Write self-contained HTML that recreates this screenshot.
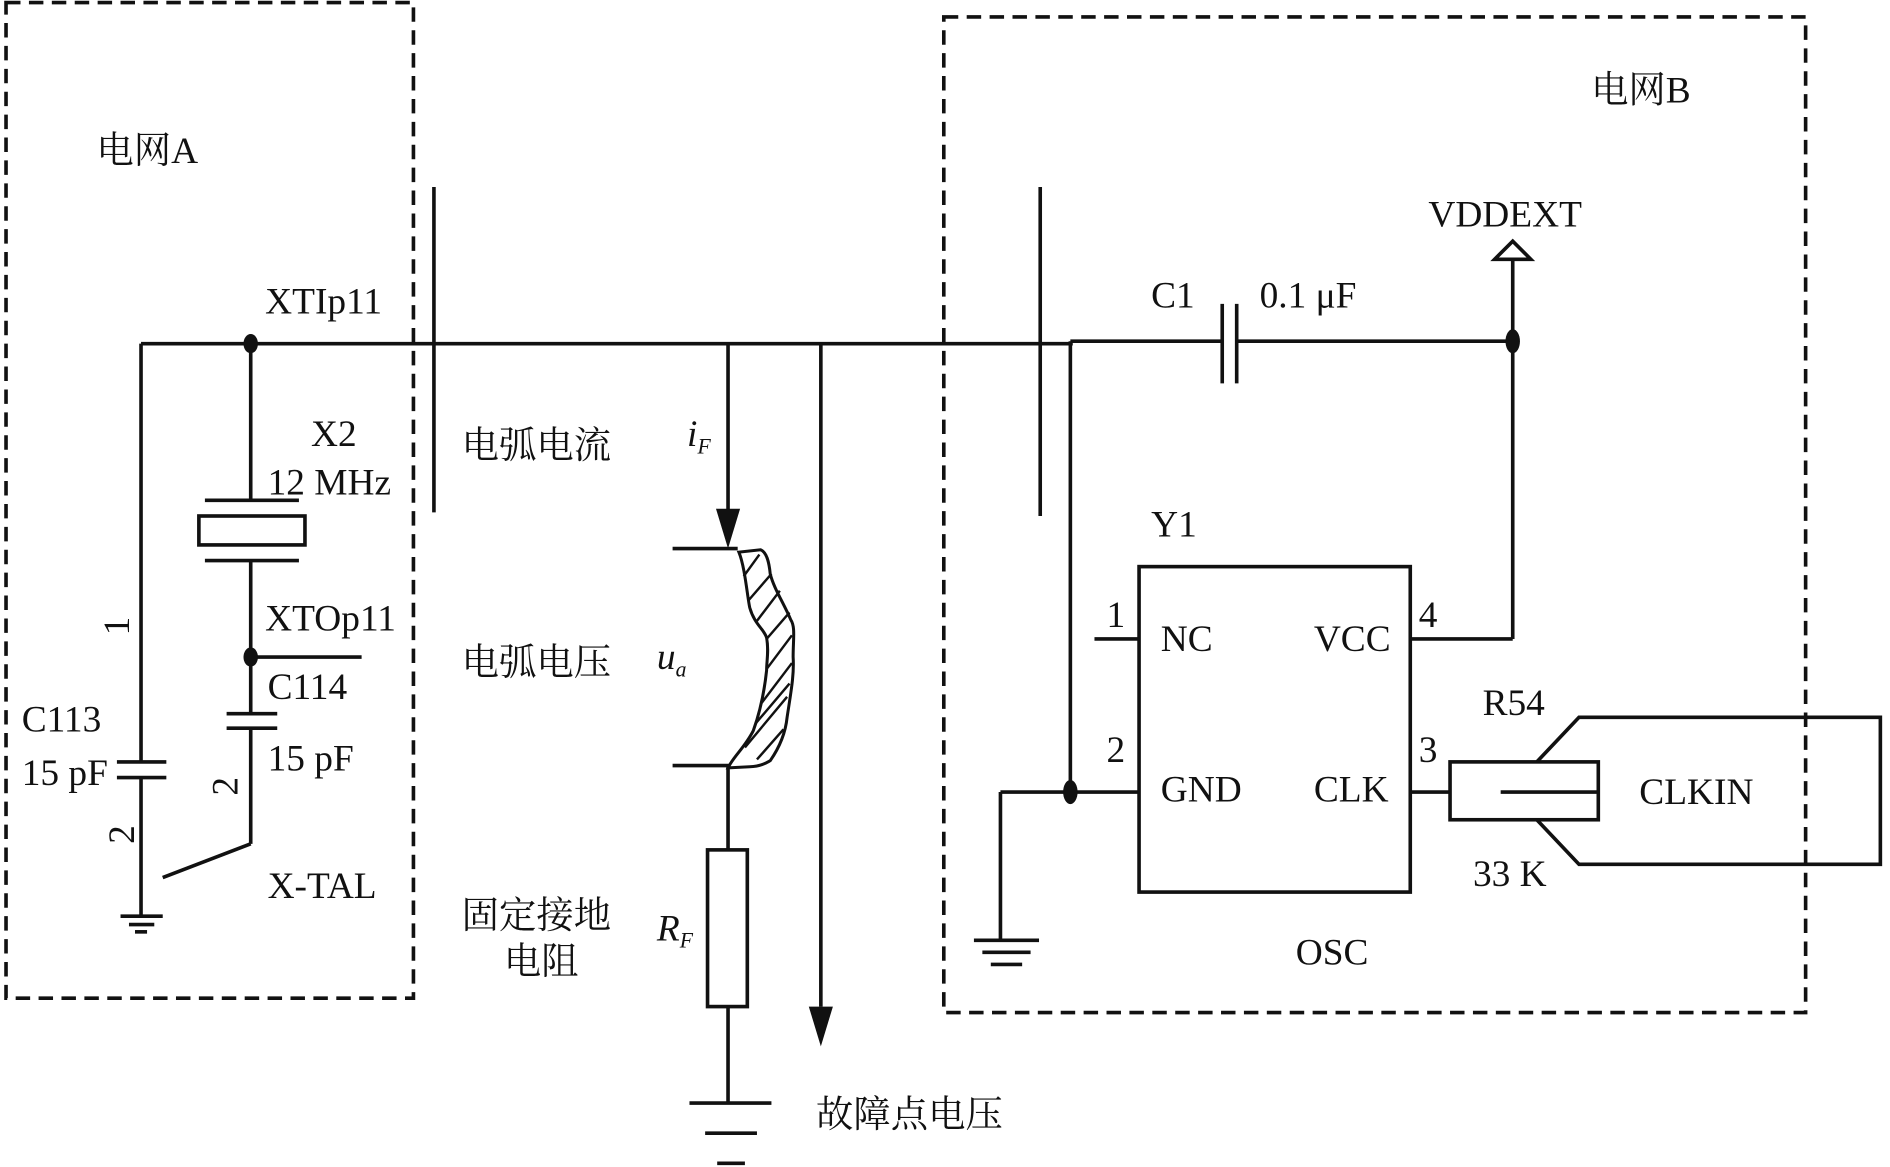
<!DOCTYPE html>
<html><head><meta charset="utf-8"><style>
html,body{margin:0;padding:0;background:#fff;}
svg{display:block;}
text{font-family:"Liberation Serif","Noto Serif CJK SC",serif;font-size:31px;fill:#111;}
.cn{font-family:"Liberation Serif","Noto Serif CJK SC",serif;}
</style></head><body>
<svg width="1890" height="1167" viewBox="0 0 1568 968" xmlns="http://www.w3.org/2000/svg">
<g fill="none" stroke="#111" stroke-width="3">
<rect x="5" y="2" width="338" height="826" stroke-dasharray="12,7"/>
<rect x="783" y="14" width="715" height="826" stroke-dasharray="12,7"/>
<line x1="117" y1="285" x2="890" y2="285"/>
<line x1="888" y1="283" x2="1014" y2="283"/>
<line x1="1026" y1="283" x2="1255" y2="283"/>
<line x1="1014" y1="252" x2="1014" y2="318"/>
<line x1="1026" y1="252" x2="1026" y2="318"/>
<line x1="360" y1="155" x2="360" y2="425"/>
<line x1="863" y1="155" x2="863" y2="428"/>
<line x1="117" y1="285" x2="117" y2="632"/>
<line x1="97" y1="632" x2="138" y2="632"/>
<line x1="97" y1="645" x2="138" y2="645"/>
<line x1="117" y1="645" x2="117" y2="760"/>
<line x1="100" y1="760" x2="135" y2="760"/>
<line x1="107" y1="767" x2="128" y2="767"/>
<line x1="112" y1="773" x2="122" y2="773"/>
<line x1="208" y1="285" x2="208" y2="415"/>
<line x1="170" y1="415" x2="248" y2="415"/>
<rect x="165" y="428" width="88" height="24"/>
<line x1="170" y1="465" x2="248" y2="465"/>
<line x1="208" y1="465" x2="208" y2="592"/>
<line x1="208" y1="545" x2="300" y2="545"/>
<line x1="188" y1="592" x2="230" y2="592"/>
<line x1="188" y1="604" x2="230" y2="604"/>
<line x1="208" y1="604" x2="208" y2="700"/>
<line x1="208" y1="700" x2="135" y2="728"/>
<line x1="604" y1="285" x2="604" y2="425"/>
<line x1="558" y1="455" x2="612" y2="455"/>
<line x1="558" y1="635" x2="605" y2="635"/>
<path d="M613 458 C 618 470, 620 495, 622 504 C 626 518, 634 522, 636 529 C 638 540, 636 548, 636 556 C 634 575, 630 592, 625 606 C 618 620, 608 628, 604 637 L 622 636 C 632 636, 637 632, 639 631 C 648 618, 652 605, 653 595 C 656 575, 659 560, 658 545 C 658 530, 660 520, 656 514 C 650 500, 642 488, 639 476 C 638 466, 636 458, 631 456 Z" stroke-width="2.5"/>
<line x1="604" y1="635" x2="604" y2="705"/>
<rect x="587" y="705" width="33" height="130"/>
<line x1="604" y1="835" x2="604" y2="915"/>
<line x1="572" y1="915" x2="640" y2="915"/>
<line x1="585" y1="940" x2="628" y2="940"/>
<line x1="595" y1="965" x2="618" y2="965"/>
<line x1="681" y1="285" x2="681" y2="835"/>
<line x1="888" y1="283" x2="888" y2="657"/>
<line x1="830" y1="657" x2="945" y2="657"/>
<line x1="830" y1="657" x2="830" y2="780"/>
<line x1="808" y1="780" x2="862" y2="780"/>
<line x1="815" y1="790" x2="855" y2="790"/>
<line x1="822" y1="800" x2="848" y2="800"/>
<rect x="945" y="470" width="225" height="270"/>
<line x1="908" y1="530" x2="945" y2="530"/>
<line x1="1170" y1="530" x2="1255" y2="530"/>
<line x1="1255" y1="215" x2="1255" y2="530"/>
<polygon points="1240,215 1270,215 1255,200"/>
<line x1="1170" y1="657" x2="1203" y2="657"/>
<rect x="1203" y="632" width="123" height="48"/>
<line x1="1245" y1="657" x2="1326" y2="657"/>
<polyline points="1275,632 1310,595 1560,595 1560,717 1310,717 1275,680"/>
</g>
<g stroke="#111" stroke-width="2">
<line x1="617" y1="478" x2="630" y2="460"/><line x1="621" y1="498" x2="640" y2="476"/>
<line x1="628" y1="515" x2="647" y2="490"/><line x1="636" y1="530" x2="655" y2="508"/>
<line x1="636" y1="555" x2="657" y2="527"/><line x1="632" y1="583" x2="657" y2="550"/>
<line x1="627" y1="600" x2="655" y2="567"/><line x1="618" y1="620" x2="653" y2="578"/>
<line x1="628" y1="630" x2="650" y2="605"/>
</g>
<g fill="#111">
<ellipse cx="208" cy="285" rx="6" ry="8"/>
<ellipse cx="208" cy="545" rx="6" ry="8"/>
<ellipse cx="888" cy="657" rx="6" ry="10"/>
<ellipse cx="1255" cy="283" rx="6" ry="10"/>
<polygon points="594,422 614,422 604,455"/>
<polygon points="671,835 691,835 681,868"/>
</g>
<text x="80" y="135" class="cn">电网A</text>
<text x="1320" y="85" class="cn">电网B</text>
<text x="220" y="260">XTIp11</text>
<text x="258" y="370">X2</text>
<text x="222" y="410">12 MHz</text>
<text x="220" y="523">XTOp11</text>
<text x="222" y="580">C114</text>
<text x="222" y="639">15 pF</text>
<text x="18" y="607">C113</text>
<text x="18" y="651">15 pF</text>
<text x="222" y="745">X-TAL</text>
<text transform="translate(107,527) rotate(-90)">1</text>
<text transform="translate(197,660) rotate(-90)">2</text>
<text transform="translate(111,700) rotate(-90)">2</text>
<text x="383" y="380" class="cn">电弧电流</text>
<text x="570" y="370" font-style="italic">i<tspan font-size="18" dy="6">F</tspan></text>
<text x="383" y="560" class="cn">电弧电压</text>
<text x="545" y="555" font-style="italic">u<tspan font-size="18" dy="6">a</tspan></text>
<text x="383" y="770" class="cn">固定接地</text>
<text x="418" y="808" class="cn">电阻</text>
<text x="545" y="780" font-style="italic">R<tspan font-size="18" dy="6">F</tspan></text>
<text x="677" y="935" class="cn">故障点电压</text>
<text x="1185" y="188">VDDEXT</text>
<text x="955" y="255">C1</text>
<text x="1045" y="255">0.1 μF</text>
<text x="955" y="445">Y1</text>
<text x="963" y="540">NC</text>
<text x="1090" y="540">VCC</text>
<text x="963" y="665">GND</text>
<text x="1090" y="665">CLK</text>
<text x="918" y="520">1</text>
<text x="918" y="632">2</text>
<text x="1177" y="520">4</text>
<text x="1177" y="632">3</text>
<text x="1230" y="593">R54</text>
<text x="1222" y="735">33 K</text>
<text x="1360" y="667">CLKIN</text>
<text x="1075" y="800">OSC</text>
</svg>
</body></html>
